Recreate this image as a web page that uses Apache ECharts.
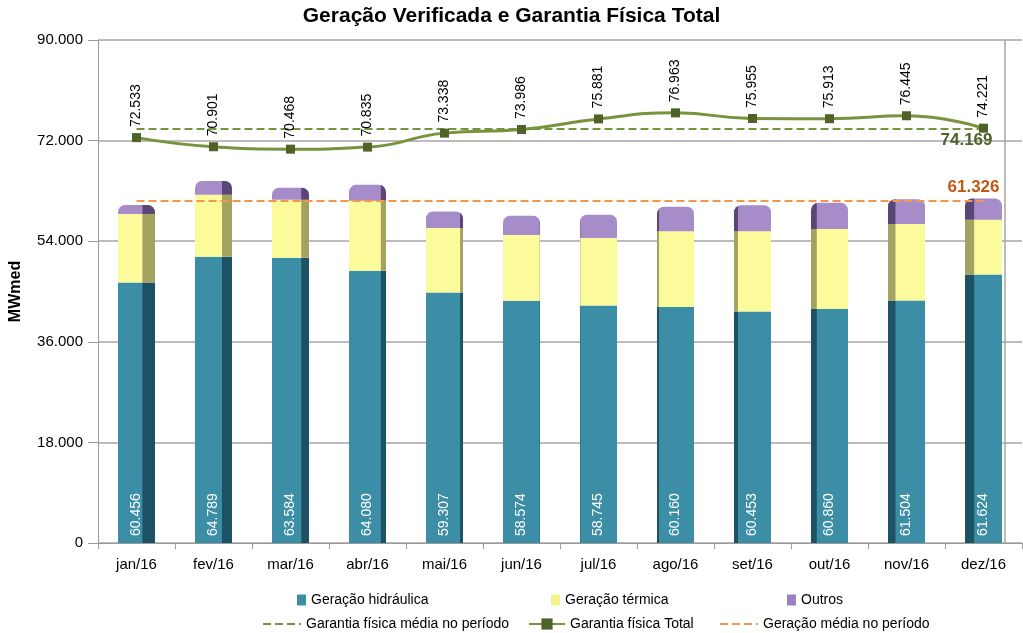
<!DOCTYPE html>
<html><head><meta charset="utf-8">
<script src="https://cdn.jsdelivr.net/npm/echarts@6/dist/echarts.min.js"></script>
<style>html,body{margin:0;padding:0;background:#fff}#c{width:1023px;height:633px}</style>
</head><body><div id="c"></div>
<script>
const categories = ['jan/16','fev/16','mar/16','abr/16','mai/16','jun/16','jul/16','ago/16','set/16','out/16','nov/16','dez/16'];
const hidraulica = [46620, 51230, 51050, 48720, 44830, 43350, 42500, 42220, 41430, 41860, 43400, 48060];
const termica    = [12250, 11100, 10350, 12500, 11540, 11760, 12080, 13540, 14330, 14330, 13690, 9790];
const outros     = [1586, 2459, 2184, 2860, 2937, 3464, 4165, 4400, 4693, 4670, 4414, 3774];
const totalLabels = [60456, 64789, 63584, 64080, 59307, 58574, 58745, 60160, 60453, 60860, 61504, 61624];
const garantiaTotal = [72533, 70901, 70468, 70835, 73338, 73986, 75881, 76963, 75955, 75913, 76445, 74221];
const garantiaMedia = 74169;
const geracaoMedia = 61326;
const yMin = 0, yMax = 90000, yInterval = 18000;

const NARROW = '"Liberation Sans Narrow", "Arial Narrow", "Liberation Sans", Arial, sans-serif';
const SANS = '"Liberation Sans", Arial, sans-serif';
function fmt(v){ return String(v).replace(/\B(?=(\d{3})+(?!\d))/g, '.'); }

function shade(i, light, dark){
  let stops;
  if (i <= 5){
    const s = Math.max(0, 5 - i) / 5 * 0.33;
    stops = [{offset:0,color:light},{offset:Math.max(0,1-s-0.02),color:light},{offset:1-s,color:dark},{offset:1,color:dark}];
  } else {
    const s = Math.max(0, i - 6) / 5 * 0.24;
    stops = [{offset:0,color:dark},{offset:s,color:dark},{offset:Math.min(1,s+0.02),color:light},{offset:1,color:light}];
  }
  return {type:'linear',x:0,y:0,x2:1,y2:0,colorStops:stops};
}
function items(arr, light, dark, radius){
  return arr.map((v,i)=>({value:v,itemStyle:{color:shade(i,light,dark), borderRadius:radius||0}}));
}

const chart = echarts.init(document.getElementById('c'), null, {renderer:'canvas'});
const legendBase = {padding:0, itemGap:0, textStyle:{fontFamily:SANS,fontSize:14,color:'#000'}};
chart.setOption({
  animation:false,
  backgroundColor:'#fff',
  title:{text:'Geração Verificada e Garantia Física Total', left:'center', top:1,
    textStyle:{fontFamily:NARROW, fontWeight:'bold', fontSize:21, color:'#000'}},
  grid:{left:96, right:1, top:40, bottom:90, containLabel:false},
  legend:[
    Object.assign({}, legendBase, {data:[{name:'Geração hidráulica',icon:'rect'}], left:297, top:593, itemWidth:9, itemHeight:11}),
    Object.assign({}, legendBase, {data:[{name:'Geração térmica',icon:'rect'}], left:551, top:593, itemWidth:9, itemHeight:11}),
    Object.assign({}, legendBase, {data:[{name:'Outros',icon:'rect'}], left:787, top:593, itemWidth:9, itemHeight:11}),
    Object.assign({}, legendBase, {data:[{name:'Garantia física média no período',itemStyle:{opacity:0}}], left:262, top:617, itemWidth:38, itemHeight:14}),
    Object.assign({}, legendBase, {data:['Garantia física Total'], left:528, top:617, itemWidth:36, itemHeight:14}),
    Object.assign({}, legendBase, {data:[{name:'Geração média no período',itemStyle:{opacity:0}}], left:719, top:617, itemWidth:38, itemHeight:14})
  ],
  xAxis:{type:'category', data:categories,
    axisLine:{lineStyle:{color:'#9a9a9a'}},
    axisTick:{show:true, alignWithLabel:false, length:6, lineStyle:{color:'#9a9a9a'}},
    axisLabel:{fontFamily:SANS, fontSize:15, color:'#000', margin:14}},
  yAxis:[{type:'value', min:yMin, max:yMax, interval:yInterval,
    name:'MWmed', nameLocation:'middle', nameGap:74,
    nameTextStyle:{fontFamily:SANS, fontWeight:'bold', fontSize:16, color:'#000'},
    axisLine:{show:true, lineStyle:{color:'#9a9a9a'}},
    axisTick:{show:true, length:10, lineStyle:{color:'#9a9a9a'}},
    axisLabel:{fontFamily:SANS, fontSize:15, color:'#000', margin:15, formatter:v=>fmt(v)},
    splitLine:{show:true, lineStyle:{color:'#a6a6a6', width:1.5}}},
   {type:'value', min:yMin, max:yMax, interval:yInterval, position:'right', offset:-17,
    axisLine:{show:true, lineStyle:{color:'#a6a6a6', width:1.5}}, axisTick:{show:false}, axisLabel:{show:false}, splitLine:{show:false}}
  ],
  series:[
    {name:'Geração hidráulica', type:'bar', stack:'g', barWidth:37, color:'#3b8ea5',
     data:items(hidraulica,'#3b8ea5','#1c5263'),
     label:{show:true, position:'insideBottom', rotate:90, align:'left', verticalAlign:'middle', distance:7,
       color:'#fff', fontFamily:SANS, fontSize:14, formatter:p=>fmt(totalLabels[p.dataIndex])}},
    {name:'Geração térmica', type:'bar', stack:'g', barWidth:37, color:'#f4f48e',
     data:items(termica,'#fbfb9c','#a3a261')},
    {name:'Outros', type:'bar', stack:'g', barWidth:37, color:'#9b82c2',
     data:items(outros,'#a68dca','#5a4676',[7,7,0,0])},
    {name:'Garantia física média no período', type:'line', data:[], color:'#77933c',
     lineStyle:{type:'dashed', width:2, color:'#77933c'}, symbol:'none',
     markLine:{silent:true, symbol:'none', z:10,
       lineStyle:{type:'dashed', width:2, color:'#77933c'},
       label:{show:true, position:'insideEndBottom', distance:3, offset:[12,0], formatter:()=>fmt(garantiaMedia),
         color:'#4f6228', fontFamily:NARROW, fontWeight:'bold', fontSize:17},
       data:[[{coord:[categories[0], garantiaMedia]},{coord:[categories[categories.length-1], garantiaMedia]}]]}},
    {name:'Garantia física Total', type:'line', data:garantiaTotal, smooth:true, z:12,
     symbol:'rect', symbolSize:9, color:'#4f6228',
     itemStyle:{color:'#4f6228'},
     lineStyle:{color:'#77933c', width:3},
     label:{show:true, position:'top', rotate:90, align:'left', verticalAlign:'middle', distance:6,
       color:'#000', fontFamily:SANS, fontSize:14, formatter:p=>fmt(p.value)}},
    {name:'Geração média no período', type:'line', data:[], color:'#f79646',
     lineStyle:{type:'dashed', width:2, color:'#f79646'}, symbol:'none',
     markLine:{silent:true, symbol:'none', z:10,
       lineStyle:{type:'dashed', width:2, color:'#f79646'},
       label:{show:true, position:'insideEndTop', distance:4, offset:[20,0], formatter:()=>fmt(geracaoMedia),
         color:'#c0580f', fontFamily:NARROW, fontWeight:'bold', fontSize:17},
       data:[[{coord:[categories[0], geracaoMedia]},{coord:[categories[categories.length-1], geracaoMedia]}]]}}
  ]
});
</script></body></html>
